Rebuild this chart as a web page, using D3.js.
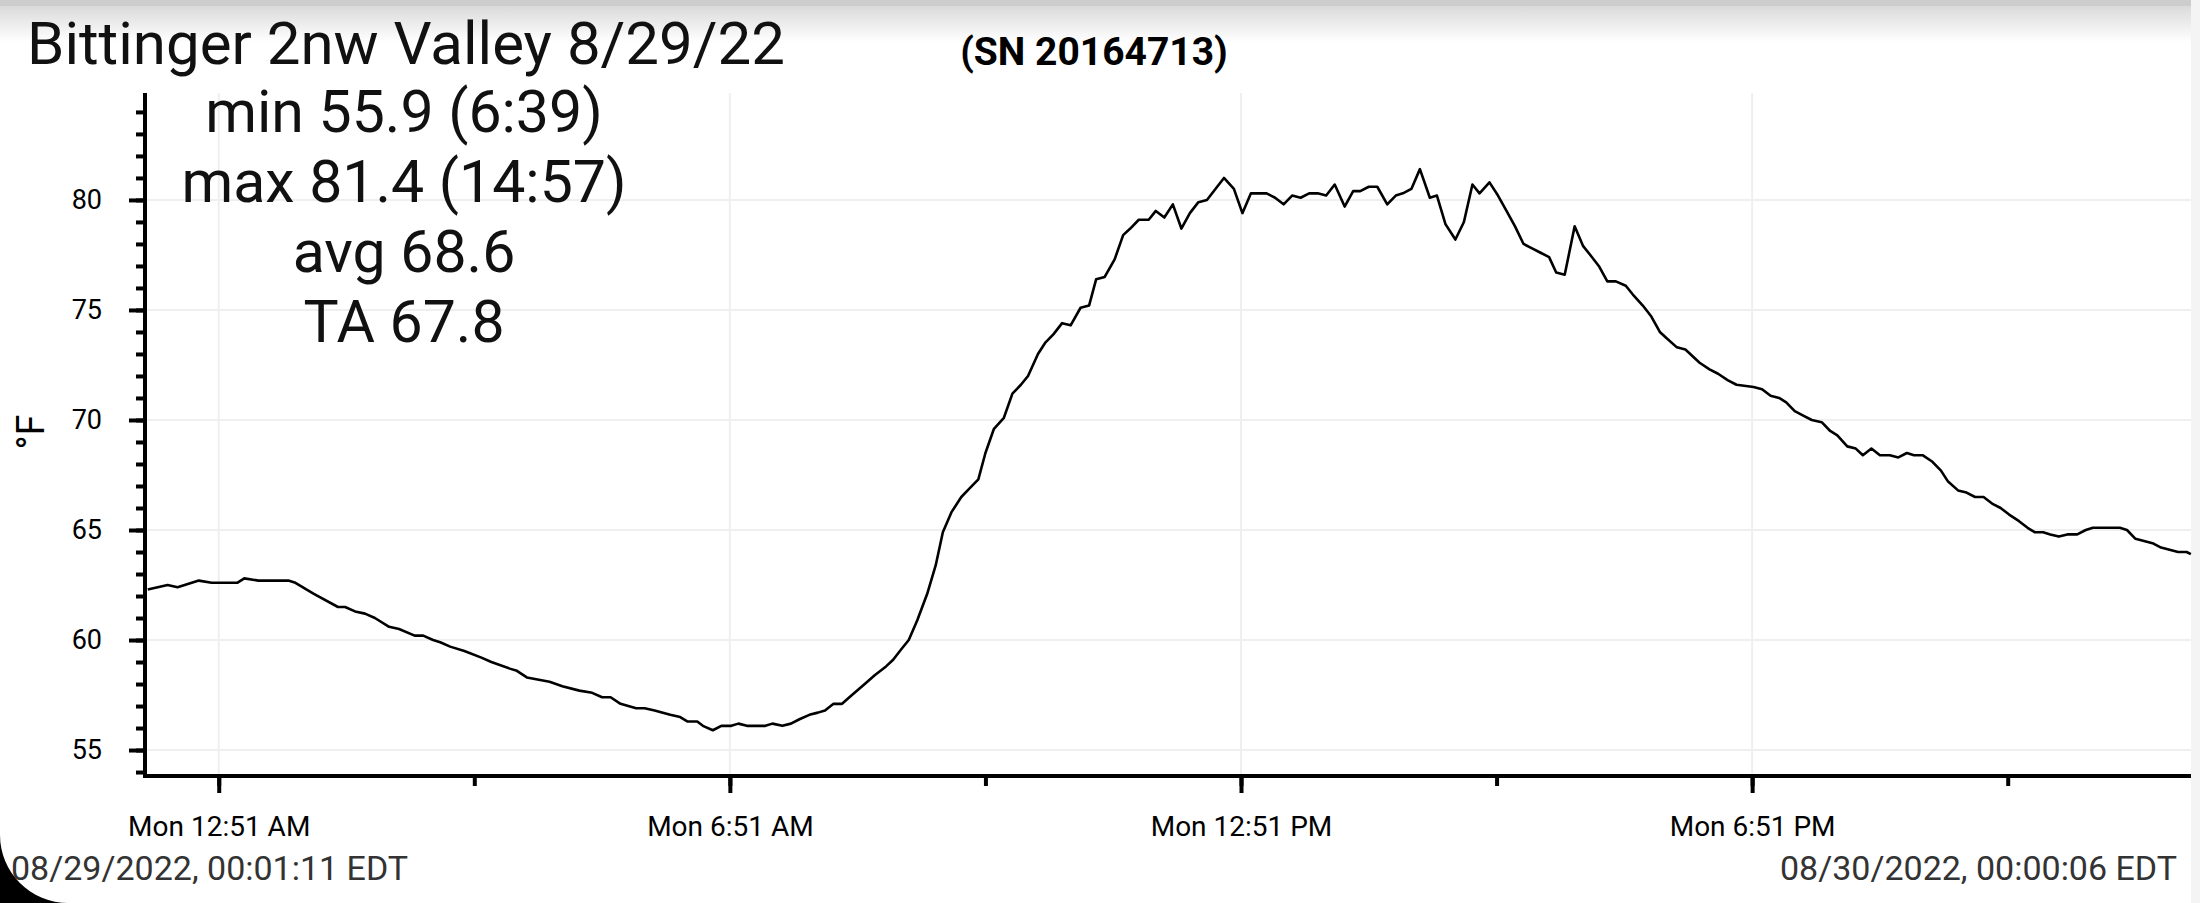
<!DOCTYPE html>
<html>
<head>
<meta charset="utf-8">
<script src="https://cdn.jsdelivr.net/npm/d3@7"></script>
<style>
  body { margin: 0; background: #fff; }
  svg { display: block; font-family: Roboto, "Noto Sans", sans-serif; }
</style>
</head>
<body>
<div id="chart"></div>
<script>
const width = 2200;
const height = 903;

// logger readings, 8/29/22 (local time HH:MM, °F)
const times = [
  "00:01","00:15","00:22","00:27","00:37","00:46","01:04","01:09","01:19","01:40",
  "01:45","01:58","02:15","02:20","02:27","02:34","02:41","02:51","02:58","03:09",
  "03:15","03:22","03:27","03:34","03:44","03:56","04:03","04:16","04:21","04:28",
  "04:44","04:53","05:05","05:14","05:21","05:27","05:34","05:45","05:51","05:58",
  "06:09","06:16","06:21","06:28","06:32","06:39","06:45","06:52","06:57","07:03",
  "07:16","07:21","07:28","07:34","07:40","07:47","07:53","07:58","08:04","08:10",
  "08:17","08:26","08:33","08:41","08:46","08:52","08:57","09:03","09:10","09:16",
  "09:21","09:27","09:34","09:40","09:46","09:51","09:57","10:04","10:10","10:16",
  "10:21","10:28","10:33","10:39","10:45","10:51","10:58","11:04","11:09","11:15",
  "11:22","11:28","11:33","11:39","11:46","11:51","11:57","12:03","12:09","12:15",
  "12:21","12:27","12:33","12:39","12:46","12:52","12:58","13:03","13:09","13:15",
  "13:21","13:27","13:33","13:39","13:45","13:51","13:57","14:04","14:10","14:15",
  "14:21","14:27","14:34","14:40","14:45","14:51","14:57","15:04","15:09","15:15",
  "15:22","15:28","15:34","15:39","15:46","15:52","15:58","16:04","16:10","16:16",
  "16:22","16:28","16:33","16:39","16:46","16:52","16:57","17:03","17:09","17:15",
  "17:22","17:27","17:34","17:40","17:46","17:51","17:58","18:04","18:14","18:21",
  "18:27","18:34","18:40","18:52","18:58","19:04","19:10","19:15","19:21","19:27",
  "19:33","19:40","19:46","19:51","19:58","20:04","20:09","20:15","20:21","20:28",
  "20:34","20:40","20:45","20:51","20:58","21:04","21:09","21:16","21:22","21:28",
  "21:34","21:40","21:46","21:52","21:59","22:05","22:10","22:16","22:21","22:27",
  "22:33","22:40","22:46","22:51","23:10","23:15","23:21","23:27","23:33","23:39",
  "23:45","23:51","23:57","24:00"
];
const temps = [
  62.3,62.5,62.4,62.5,62.7,62.6,62.6,62.8,62.7,62.7,
  62.6,62.1,61.5,61.5,61.3,61.2,61.0,60.6,60.5,60.2,
  60.2,60.0,59.9,59.7,59.5,59.2,59.0,58.7,58.6,58.3,
  58.1,57.9,57.7,57.6,57.4,57.4,57.1,56.9,56.9,56.8,
  56.6,56.5,56.3,56.3,56.1,55.9,56.1,56.1,56.2,56.1,
  56.1,56.2,56.1,56.2,56.4,56.6,56.7,56.8,57.1,57.1,
  57.5,58.0,58.4,58.8,59.1,59.6,60.0,60.9,62.1,63.4,
  64.9,65.8,66.5,66.9,67.3,68.5,69.6,70.1,71.2,71.6,
  72.0,73.0,73.5,73.9,74.4,74.3,75.1,75.2,76.4,76.5,
  77.3,78.4,78.7,79.1,79.1,79.5,79.2,79.8,78.7,79.4,
  79.9,80.0,80.5,81.0,80.5,79.4,80.3,80.3,80.3,80.1,
  79.8,80.2,80.1,80.3,80.3,80.2,80.7,79.7,80.4,80.4,
  80.6,80.6,79.8,80.2,80.3,80.5,81.4,80.1,80.2,78.9,
  78.2,79.0,80.7,80.3,80.8,80.2,79.5,78.8,78.0,77.8,
  77.6,77.4,76.7,76.6,78.8,77.9,77.5,77.0,76.3,76.3,
  76.1,75.7,75.2,74.7,74.0,73.7,73.3,73.2,72.6,72.3,
  72.1,71.8,71.6,71.5,71.4,71.1,71.0,70.8,70.4,70.2,
  70.0,69.9,69.5,69.3,68.8,68.7,68.4,68.7,68.4,68.4,
  68.3,68.5,68.4,68.4,68.1,67.7,67.2,66.8,66.7,66.5,
  66.5,66.2,66.0,65.7,65.4,65.1,64.9,64.9,64.8,64.7,
  64.8,64.8,65.0,65.1,65.1,65.0,64.6,64.5,64.4,64.2,
  64.1,64.0,64.0,63.9
];

const title = "Bittinger 2nw Valley 8/29/22";
const serial = "(SN 20164713)";
const stats = ["min 55.9 (6:39)", "max 81.4 (14:57)", "avg 68.6", "TA 67.8"];
const startLabel = "08/29/2022, 00:01:11 EDT";
const endLabel = "08/30/2022, 00:00:06 EDT";
const yLabel = "°F";

const majorTicksY = [55, 60, 65, 70, 75, 80];
const minorTicksY = d3.range(54, 85);
const tickTimes = ["00:51","03:51","06:51","09:51","12:51","15:51","18:51","21:51"];
const labelTimes = ["00:51","06:51","12:51","18:51"];

function toDate(hm, sec) {
  const [h, m] = hm.split(':').map(Number);
  return new Date(2022, 7, 29, h, m, sec || 0);
}

const data = times.map((t, i) => ({date: toDate(t), temp: temps[i]}));

const x = d3.scaleTime()
  .domain([toDate("00:01", 11), toDate("24:00", 6)])
  .range([148, 2191]);
const y = d3.scaleLinear()
  .domain([53.82, 84.86])
  .range([776, 93]);

const svg = d3.select('#chart')
  .append('svg')
  .attr('width', width)
  .attr('height', height);

// screenshot chrome: top shadow band, right strip, rounded corner
const defs = svg.append('defs');
const grad = defs.append('linearGradient')
  .attr('id', 'topShade').attr('x1', 0).attr('x2', 0).attr('y1', 0).attr('y2', 1);
grad.append('stop').attr('offset', '0%').attr('stop-color', '#dadada');
grad.append('stop').attr('offset', '100%').attr('stop-color', '#ffffff');

svg.append('rect').attr('x', 0).attr('y', 6).attr('width', 2191).attr('height', 36)
  .attr('fill', 'url(#topShade)');
svg.append('rect').attr('x', 0).attr('y', 0).attr('width', 2191).attr('height', 6)
  .attr('fill', '#cdcdcd');
svg.append('rect').attr('x', 2191).attr('y', 0).attr('width', 9).attr('height', height)
  .attr('fill', '#f4f4f4');

// grid
svg.append('g')
  .selectAll('line.h')
  .data(majorTicksY)
  .enter().append('line')
  .attr('x1', 147).attr('x2', 2191)
  .attr('y1', d => y(d)).attr('y2', d => y(d))
  .attr('stroke', '#efefef').attr('stroke-width', 2);

svg.append('g')
  .selectAll('line.v')
  .data(labelTimes)
  .enter().append('line')
  .attr('x1', d => x(toDate(d))).attr('x2', d => x(toDate(d)))
  .attr('y1', 93).attr('y2', 774)
  .attr('stroke', '#efefef').attr('stroke-width', 2);

// y axis: minor ticks every degree, labelled every five
let yMinor = svg.append('g')
  .attr('transform', 'translate(145,0)')
  .call(d3.axisLeft(y).tickValues(minorTicksY).tickSize(9).tickFormat(''));
yMinor.select('.domain').remove();
yMinor.selectAll('line').attr('stroke', '#000').attr('stroke-width', 4);

let yMajor = svg.append('g')
  .attr('transform', 'translate(145,0)')
  .call(d3.axisLeft(y).tickValues(majorTicksY).tickSize(16).tickPadding(27));
yMajor.select('.domain').remove();
yMajor.selectAll('line').attr('stroke', '#000').attr('stroke-width', 4);
yMajor.selectAll('text')
  .style('font-family', 'Roboto')
  .style('font-size', '27px')
  .attr('fill', '#000');

svg.append('line')
  .attr('x1', 145).attr('x2', 145).attr('y1', 93).attr('y2', 778)
  .attr('stroke', '#000').attr('stroke-width', 4);

// x axis
let timeFmt = d3.timeFormat('%a %-I:%M %p');
let xMinor = svg.append('g')
  .attr('transform', 'translate(0,776)')
  .call(d3.axisBottom(x).tickValues(tickTimes.map(d => toDate(d))).tickSize(10).tickFormat(''));
xMinor.select('.domain').remove();
xMinor.selectAll('line').attr('stroke', '#000').attr('stroke-width', 4);

let xMajor = svg.append('g')
  .attr('transform', 'translate(0,776)')
  .call(d3.axisBottom(x).tickValues(labelTimes.map(d => toDate(d))).tickSize(17).tickPadding(23).tickFormat(timeFmt));
xMajor.select('.domain').remove();
xMajor.selectAll('line').attr('stroke', '#000').attr('stroke-width', 4);
xMajor.selectAll('text')
  .style('font-family', 'Roboto')
  .style('font-size', '28px')
  .attr('fill', '#000');

svg.append('line')
  .attr('x1', 143).attr('x2', 2191).attr('y1', 776).attr('y2', 776)
  .attr('stroke', '#000').attr('stroke-width', 4);

// temperature line
let line = d3.line()
  .x(d => x(d.date))
  .y(d => y(d.temp));

svg.append('path')
  .datum(data)
  .attr('d', line)
  .attr('fill', 'none')
  .attr('stroke', '#000')
  .attr('stroke-width', 2.6)
  .attr('stroke-linejoin', 'round');

// texts
svg.append('text')
  .attr('x', 27).attr('y', 64)
  .style('font-size', '60px')
  .attr('fill', '#111')
  .text(title);

svg.append('text')
  .attr('x', 1094).attr('y', 65)
  .attr('text-anchor', 'middle')
  .style('font-size', '39px')
  .style('font-weight', 'bold')
  .attr('fill', '#000')
  .text(serial);

svg.append('g')
  .selectAll('text')
  .data(stats)
  .enter().append('text')
  .attr('x', 404)
  .attr('y', (d, i) => 132 + i * 70)
  .attr('text-anchor', 'middle')
  .style('font-size', '59px')
  .attr('fill', '#111')
  .text(d => d);

svg.append('text')
  .attr('transform', 'translate(44,432) rotate(-90)')
  .attr('text-anchor', 'middle')
  .style('font-size', '38px')
  .attr('fill', '#000')
  .text(yLabel);

svg.append('text')
  .attr('x', 11).attr('y', 880)
  .style('font-size', '34px')
  .attr('fill', '#333')
  .text(startLabel);

svg.append('text')
  .attr('x', 2177).attr('y', 880)
  .attr('text-anchor', 'end')
  .style('font-size', '34px')
  .attr('fill', '#333')
  .text(endLabel);

// rounded screen corner
svg.append('path')
  .attr('d', 'M0,835 A68,68 0 0 0 68,903 L0,903 Z')
  .attr('fill', '#000');
</script>
</body>
</html>
